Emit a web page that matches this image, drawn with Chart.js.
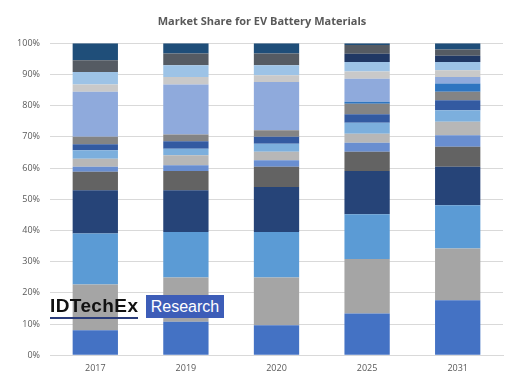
<!DOCTYPE html>
<html><head><meta charset="utf-8">
<script src="https://cdn.jsdelivr.net/npm/chart.js@4.4.1/dist/chart.umd.min.js"></script>
<style>
html,body{margin:0;padding:0;background:#fff;}
#wrap{position:relative;width:527px;height:389px;}
canvas{position:absolute;left:0;top:0;}
#logo1{position:absolute;left:50px;top:296px;font-family:"Liberation Sans",Arial,sans-serif;font-size:19px;font-weight:bold;color:#111;letter-spacing:0.4px;border-bottom:2px solid #2a3c7a;line-height:20px;padding-bottom:1px;}
#logo2{position:absolute;left:146px;top:295px;width:78px;height:23px;background:#3d5db8;color:#fff;font-family:"Liberation Sans",Arial,sans-serif;font-size:16px;line-height:23px;text-align:center;}
</style></head>
<body><div id="wrap"><canvas id="c" width="527" height="389"></canvas>
<div id="logo1">IDTechEx</div><div id="logo2">Research</div></div>
<script>
const years = ["2017","2019","2020","2025","2031"];
const tickValues = [0,10,20,30,40,50,60,70,80,90,100];
const s1  = [8.0, 10.7, 9.6, 13.4, 17.6];
const s2  = [14.7, 14.2, 15.3, 17.4, 16.6];
const s3  = [16.3, 14.6, 14.6, 14.4, 13.9];
const s4  = [13.9, 13.4, 14.4, 13.8, 12.3];
const s5  = [5.9, 6.1, 6.5, 6.2, 6.4];
const s6  = [1.6, 1.9, 2.1, 2.9, 3.7];
const s7  = [2.6, 3.2, 2.7, 2.9, 4.3];
const s8  = [2.7, 2.1, 2.6, 3.5, 3.7];
const s9  = [1.9, 2.4, 2.2, 2.7, 3.2];
const s10 = [2.4, 2.1, 2.1, 3.4, 2.7];
const s11 = [0.0, 0.0, 0.0, 0.6, 2.7];
const s12 = [14.4, 16.1, 15.5, 7.4, 2.1];
const s13 = [2.4, 2.4, 2.1, 2.3, 2.1];
const s14 = [4.0, 3.7, 3.2, 3.1, 2.7];
const s15 = [0.0, 0.0, 0.0, 2.6, 2.0];
const s16 = [3.7, 3.8, 3.8, 2.8, 2.0];
const s17 = [5.5, 3.3, 3.3, 0.6, 2.0];
const seriesValues = [s1,s2,s3,s4,s5,s6,s7,s8,s9,s10,s11,s12,s13,s14,s15,s16,s17];
const seriesColors = ["#4472c4","#a5a5a5","#5b9bd5","#264478","#636363","#698ed0","#b7b7b7","#7cafdd","#335aa1","#848484","#2e75c0","#8faadc","#c9c9c9","#9dc3e6","#203864","#555b63","#1f4e79"];
const datasets = seriesValues.map((v,i)=>({label:"S"+(i+1),data:v,backgroundColor:seriesColors[i],borderWidth:0,categoryPercentage:1,barPercentage:0.5}));
new Chart(document.getElementById("c"),{
  type:"bar",
  data:{labels:years,datasets:datasets},
  options:{
    responsive:false,animation:false,
    layout:{padding:{left:0,right:3,top:0,bottom:7}},
    plugins:{
      legend:{display:false},tooltip:{enabled:false},
      title:{display:true,text:"Market Share for EV Battery Materials",color:"#595959",
        font:{family:"'Open Sans','Liberation Sans',sans-serif",size:11,weight:"bold"},padding:{top:15,bottom:15}}
    },
    scales:{
      x:{stacked:true,grid:{display:false,drawTicks:false},border:{display:true,color:"#d9d9d9"},
        ticks:{color:"#595959",padding:8,font:{family:"'Open Sans','Liberation Sans',sans-serif",size:9}}},
      y:{stacked:true,min:0,max:100,
        afterBuildTicks:(s)=>{s.ticks=tickValues.map(v=>({value:v}));},
        afterFit:(s)=>{s.width=50;},
        grid:{color:"#d9d9d9",drawTicks:false},border:{display:false},
        ticks:{color:"#595959",padding:10,callback:(v)=>v+"%",font:{family:"'Open Sans','Liberation Sans',sans-serif",size:9}}},
      yR:{position:"right",display:true,min:0,max:100,
        afterFit:(s)=>{s.width=21;},
        grid:{display:false,drawTicks:false},border:{display:false},ticks:{display:false}}
    }
  }
});
</script></body></html>
